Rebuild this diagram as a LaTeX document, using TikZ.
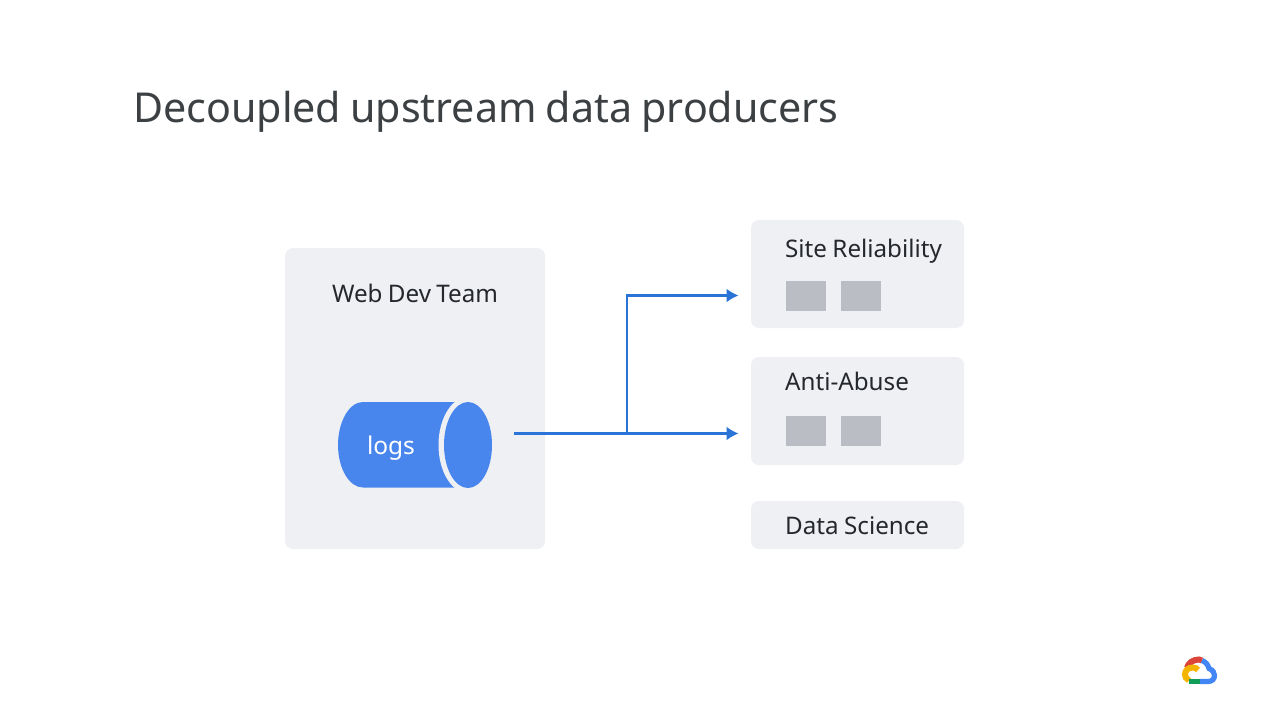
\documentclass[tikz,border=0pt]{standalone}
\usetikzlibrary{arrows.meta}
\usepackage{fontspec}
\setmainfont[WordSpace=0.85]{Noto Sans}
\definecolor{panel}{HTML}{EFF0F4}
\definecolor{slot}{HTML}{BBBDC4}
\definecolor{logblue}{HTML}{4885ED}
\definecolor{wire}{HTML}{2A74D8}
\definecolor{titleink}{HTML}{3C4043}
\definecolor{labelink}{HTML}{24272B}
\definecolor{gred}{HTML}{DB4437}
\definecolor{gblue}{HTML}{4285F4}
\definecolor{ggreen}{HTML}{0F9D58}
\definecolor{gyellow}{HTML}{F4B400}
\begin{document}
\begin{tikzpicture}[x=1pt,y=-1pt,
  panelbox/.style={fill=panel,rounded corners=8pt},
  slotbox/.style={fill=slot},
  label/.style={text=labelink,font=\fontsize{24.2}{28}\selectfont,inner sep=0pt},
  flow/.style={draw=wire,line width=2.1pt},
  flowarrow/.style={flow,-{Latex[length=12pt,width=14pt]}},
  logo/.style={line width=6pt,line cap=butt}]
\useasboundingbox (0,0) rectangle (1280,720);
\fill[white] (0,0) rectangle (1280,720);

\node[text=titleink,font=\fontsize{41.2}{48}\selectfont,inner sep=0pt,anchor=base west] (title) at (133,122) {Decoupled upstream data producers};

% Panels
\fill[panelbox] (285,248) rectangle (545,549);
\fill[panelbox] (751,220) rectangle (964,328);
\fill[panelbox] (751,357) rectangle (964,465);
\fill[panelbox] (751,501) rectangle (964,549);

\node[label,anchor=base] (web) at (415,302) {Web Dev Team};
\node[label,anchor=base west] (site) at (785,257) {Site Reliability};
\node[label,anchor=base west] (abuse) at (785,390) {Anti-Abuse};
\node[label,anchor=base west] (science) at (785,534) {Data Science};

% Consumer slots
\fill[slotbox] (786,281) rectangle (826,311);
\fill[slotbox] (841,281) rectangle (881,311);
\fill[slotbox] (786,416) rectangle (826,446);
\fill[slotbox] (841,416) rectangle (881,446);

% Log cylinder: body, separating ring, end cap
\fill[logblue] (363,402) -- (468,402) -- (468,487.5) -- (363,487.5)
  .. controls (349,487.5) and (338,468) .. (338,445)
  .. controls (338,422) and (349,402) .. (363,402) -- cycle;
\fill[panel] (468,445) ellipse[x radius=29.5,y radius=48];
\fill[logblue] (468,445) ellipse[x radius=24,y radius=43];
\node[inner sep=0pt,text=white,font=\fontsize{24.5}{28}\selectfont,anchor=base] (logs) at (391,454) {logs};

% Flow lines
\coordinate (src) at (514,433.5);
\coordinate (fork) at (627,433.5);
\coordinate (toSite) at (738.5,295.5);
\coordinate (toAbuse) at (738.5,433.5);
\draw[flowarrow] (src) -- (toAbuse);
\draw[flowarrow] (fork) |- (toSite);

% Cloud mark
\begin{scope}[logo]
\draw[gred] (1187,668) .. controls (1188,663) and (1193,659.5) .. (1199,659.5)
  .. controls (1200,659.5) and (1201,659.7) .. (1202,660.5);
\draw[gyellow] (1189,680.5) .. controls (1186,679) and (1185,676.5) .. (1185,674.5)
  .. controls (1185,670.5) and (1188,667.5) .. (1193,667.5)
  .. controls (1195,667.5) and (1197,668.3) .. (1198,670);
\draw[gblue,line width=5.2pt] (1202,660.5) .. controls (1206,662) and (1208,665) .. (1209,668.5)
  .. controls (1213,670) and (1214.5,673) .. (1214.5,675.5)
  .. controls (1214.5,679) and (1212,681.5) .. (1208,681.5) -- (1199.5,681.5);
\draw[ggreen,line width=5.2pt] (1199.5,681.5) -- (1188.5,681.5);
\end{scope}
\end{tikzpicture}
\end{document}
